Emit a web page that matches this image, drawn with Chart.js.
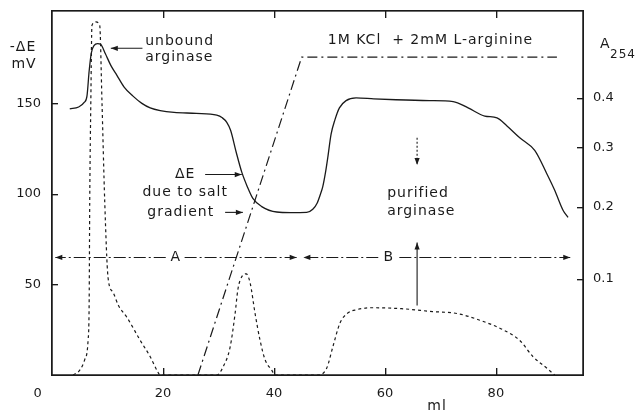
<!DOCTYPE html>
<html><head><meta charset="utf-8">
<script src="https://cdn.jsdelivr.net/npm/chart.js@4"></script>
<style>html,body{margin:0;padding:0;background:#fff;}#wrap{width:639px;height:413px;}</style>
</head><body><div id="wrap"><canvas id="c" width="639" height="413"></canvas></div>
<script>
// ---------- data ----------
const volumeDE = [3.2,4.8,5.8,6.3,6.7,7.1,7.6,8.2,8.8,9.6,10.6,11.7,13.0,14.6,16.2,17.7,19.5,22.0,26.0,29.7,30.7,31.5,32.2,33.2,34.2,35.2,36.2,37.8,40.5,43.0,45.9,47.0,47.8,48.4,48.8,49.3,49.7,50.3,51.0,51.8,53.0,54.8,58.0,62.0,68.0,72.3,75.0,78.0,80.2,82.0,84.3,87.0,89.2,90.6,92.1,93.0];
const deltaE   = [147,148,150.5,154,168,178,182,183,182.5,177.5,171,165.5,159,154,150,147.5,146,145,144.5,143.5,142,139.5,135,123,112,104,97.5,93,90,89.7,89.8,91.5,95,100,104,112,120,133,141,147.5,151.5,153,152.5,152,151.5,151,147.5,143,142,137.5,131,124,111,102,91,87];

const volumeA = [3.8,5.0,5.9,6.5,6.7,6.8,7.0,7.2,7.9,8.6,9.0,9.5,10.1,11.0,12.0,13.5,15.9,17.7,18.9,19.5,29.7,30.8,32.1,33.0,33.5,34.2,35.0,35.7,36.6,37.5,38.4,39.6,40.2,47.9,49.5,50.6,51.9,53.2,54.9,57.8,63.0,68.6,73.0,77.1,81.3,84.3,86.7,89.2,90.6];
const a254    = [0,0.005,0.016,0.036,0.078,0.21,0.395,0.59,0.6,0.59,0.395,0.21,0.102,0.086,0.072,0.060,0.036,0.019,0.005,0,0,0.008,0.029,0.064,0.089,0.103,0.107,0.096,0.064,0.036,0.016,0.005,0,0,0.007,0.029,0.054,0.064,0.068,0.070,0.069,0.066,0.064,0.057,0.047,0.036,0.019,0.007,0];

const volumeSalt = [26.3,45.0,91.0];
const saltLevel  = [0,175.5,175.5];

const xTicks = [0,20,40,60,80];
const leftTicks = [50,100,150];
const rightTicks = [0.1,0.2,0.3,0.4];

// ---------- non-linear A254 axis (as printed) ----------
const A254_KNOTS = [[0,0],[0.1,0.264],[0.2,0.4615],[0.3,0.626],[0.4,0.761],[0.5,0.874],[0.6,0.970],[0.7,1.05],[0.8,1.12]];
function warp(v){
  const k=A254_KNOTS;
  if(v<=k[0][0]) return k[0][1];
  for(let i=1;i<k.length;i++){ if(v<=k[i][0]){const t=(v-k[i-1][0])/(k[i][0]-k[i-1][0]);return k[i-1][1]+t*(k[i][1]-k[i-1][1]);} }
  return k[k.length-1][1];
}
function unwarp(f){
  const k=A254_KNOTS;
  if(f<=k[0][1]) return k[0][0];
  for(let i=1;i<k.length;i++){ if(f<=k[i][1]){const t=(f-k[i-1][1])/(k[i][1]-k[i-1][1]);return k[i-1][0]+t*(k[i][0]-k[i-1][0]);} }
  return k[k.length-1][0];
}
class WarpScale extends Chart.LinearScale {
  getPixelForValue(value){ return this.bottom - warp(value)*(this.bottom-this.top); }
  getValueForPixel(pixel){ return unwarp((this.bottom-pixel)/(this.bottom-this.top)); }
}
WarpScale.id = 'warp';
WarpScale.defaults = Chart.LinearScale.defaults;
Chart.register(WarpScale);

const INK = '#1a1a1a';
const TICKFONT = {family:'"DejaVu Sans"', size:13};
const FONT = '14px "DejaVu Sans"';

function arrow(ctx,x1,y1,x2,y2,dash){
  ctx.save();
  ctx.setLineDash(dash||[]);
  ctx.beginPath();ctx.moveTo(x1,y1);ctx.lineTo(x2,y2);ctx.stroke();
  ctx.setLineDash([]);
  const a=Math.atan2(y2-y1,x2-x1), L=7, W=2.6;
  ctx.beginPath();
  ctx.moveTo(x2,y2);
  ctx.lineTo(x2-L*Math.cos(a)+W*Math.sin(a), y2-L*Math.sin(a)-W*Math.cos(a));
  ctx.lineTo(x2-L*Math.cos(a)-W*Math.sin(a), y2-L*Math.sin(a)+W*Math.cos(a));
  ctx.closePath();ctx.fill();
  ctx.restore();
}

function drawFrame(chart){
  const {ctx, chartArea:ca, scales} = chart;
  const xs=scales.x, ys=scales.y, ascale=scales.a;
  ctx.save();
  ctx.globalAlpha=1; ctx.globalCompositeOperation='source-over';
  ctx.fillStyle=INK;
  const L=Math.round(ca.left), R=Math.round(ca.right), T=Math.round(ca.top), B=Math.round(ca.bottom);
  ctx.fillRect(L-1, T-1, R-L+2, 1.4);
  ctx.fillRect(L-1, B-0.5, R-L+2, 1.5);
  ctx.fillRect(L-1, T-1, 1.5, B-T+2);
  ctx.fillRect(R-0.5, T-1, 1.5, B-T+2);
  leftTicks.forEach(v=>{const y=Math.round(ys.getPixelForValue(v));ctx.fillRect(L,y,6,1.2);});
  rightTicks.forEach(v=>{const y=Math.round(ascale.getPixelForValue(v));ctx.fillRect(R-6,y,6,1.2);});
  xTicks.slice(1).forEach(v=>{const x=Math.round(xs.getPixelForValue(v));ctx.fillRect(x,B-7,1.2,7);ctx.fillRect(x,T,1.2,7);});
  ctx.restore();
}

const annot = {
  id:'annot',
  afterDatasetsDraw(chart){ drawFrame(chart); },
  afterDraw(chart){
    const {ctx, chartArea:ca, scales} = chart;
    const xs=scales.x, ys=scales.y;
    const X=v=>xs.getPixelForValue(v), Y=v=>ys.getPixelForValue(v);
    drawFrame(chart);
    ctx.save();
    ctx.strokeStyle=INK; ctx.fillStyle=INK;
    ctx.font=FONT; ctx.textBaseline='middle';
    try{ctx.letterSpacing='1px';}catch(e){}
    ctx.textAlign='left';
    ctx.fillText('unbound', X(16.8), Y(184.3));
    ctx.fillText('arginase', X(16.8), Y(175.4));
    ctx.fillText('1M KCl  + 2mM L-arginine', X(49.7), Y(184.8));
    ctx.fillText('purified', X(60.4), Y(100.3));
    ctx.fillText('arginase', X(60.4), Y(90.3));
    ctx.textAlign='center';
    ctx.fillText('\u0394E', X(24.0), Y(110.7));
    ctx.fillText('due to salt', X(24.0), Y(100.8));
    ctx.fillText('gradient', X(23.2), Y(89.8));
    ctx.fillText('A', X(22.3), Y(64.9));
    ctx.fillText('B', X(60.7), Y(64.9));
    ctx.fillText('ml', X(69.4), ca.bottom+31);
    ctx.fillText('-\u0394E', ca.left-29, Y(180.9));
    ctx.fillText('mV', ca.left-28, Y(171.5));
    ctx.textAlign='left';
    ctx.fillText('A', ca.right+17, Y(182.5));
    ctx.font='12px "DejaVu Sans"';
    ctx.fillText('254', ca.right+27, Y(176.5));

    ctx.lineWidth=1.1;
    arrow(ctx, X(16.3), Y(180.4), X(10.6), Y(180.4));
    arrow(ctx, X(27.6), Y(110.7), X(34.2), Y(110.7));
    arrow(ctx, X(31.2), Y(89.8), X(34.4), Y(89.8));
    arrow(ctx, X(65.8), Y(131), X(65.8), Y(116), [2,2]);
    arrow(ctx, X(65.8), Y(38.4), X(65.8), Y(73.2));
    const dd=[12,3,2,3];
    arrow(ctx, X(20.5), Y(64.9), X(0.6), Y(64.9), dd);
    arrow(ctx, X(23.9), Y(64.9), X(44.1), Y(64.9), dd);
    arrow(ctx, X(58.8), Y(64.9), X(45.3), Y(64.9), dd);
    arrow(ctx, X(62.6), Y(64.9), X(93.4), Y(64.9), dd);
    ctx.restore();
  }
};

const toXY=(xs,ys)=>xs.map((x,i)=>({x, y:ys[i]}));
const noPadV = s=>{s.paddingTop=0; s.paddingBottom=0;};

new Chart(document.getElementById('c'),{
  type:'line',
  data:{datasets:[
    {label:'-\u0394E (mV)', data:toXY(volumeDE,deltaE), yAxisID:'y', borderColor:INK, borderWidth:1.3, pointRadius:0, cubicInterpolationMode:'monotone', fill:false},
    {label:'A254', data:toXY(volumeA,a254), yAxisID:'a', borderColor:INK, borderWidth:1.2, borderDash:[3,3], pointRadius:0, cubicInterpolationMode:'monotone', fill:false},
    {label:'salt gradient', data:toXY(volumeSalt,saltLevel), yAxisID:'y', borderColor:INK, borderWidth:1.2, borderDash:[10,4,2,4], pointRadius:0, tension:0, fill:false}
  ]},
  options:{
    responsive:false, animation:false, devicePixelRatio:1,
    layout:{padding:{top:11,left:0,right:0,bottom:0}},
    plugins:{legend:{display:false}, tooltip:{enabled:false}},
    scales:{
      x:{type:'linear', min:0, max:95.7,
        afterBuildTicks:s=>{s.ticks=xTicks.map(v=>({value:v}));},
        afterFit:s=>{s.height=38; s.paddingLeft=0; s.paddingRight=0;},
        ticks:{font:TICKFONT, color:INK, padding:11, maxRotation:0, autoSkip:false,
          callback:v=>v===0?'0'+' '.repeat(7):String(v)},
        grid:{display:false, drawTicks:false}, border:{display:false}},
      y:{type:'linear', position:'left', min:0, max:201,
        afterBuildTicks:s=>{s.ticks=leftTicks.map(v=>({value:v}));},
        afterFit:s=>{s.width=52; noPadV(s);},
        ticks:{font:TICKFONT, color:INK, padding:11},
        grid:{display:false, drawTicks:false}, border:{display:false}},
      a:{type:'warp', position:'right', min:0, max:0.63,
        afterBuildTicks:s=>{s.ticks=rightTicks.map(v=>({value:v}));},
        afterFit:s=>{s.width=56; noPadV(s);},
        ticks:{font:TICKFONT, color:INK, padding:10, callback:v=>v.toFixed(1)},
        grid:{display:false, drawTicks:false}, border:{display:false}}
    }
  },
  plugins:[annot]
});
</script></body></html>
